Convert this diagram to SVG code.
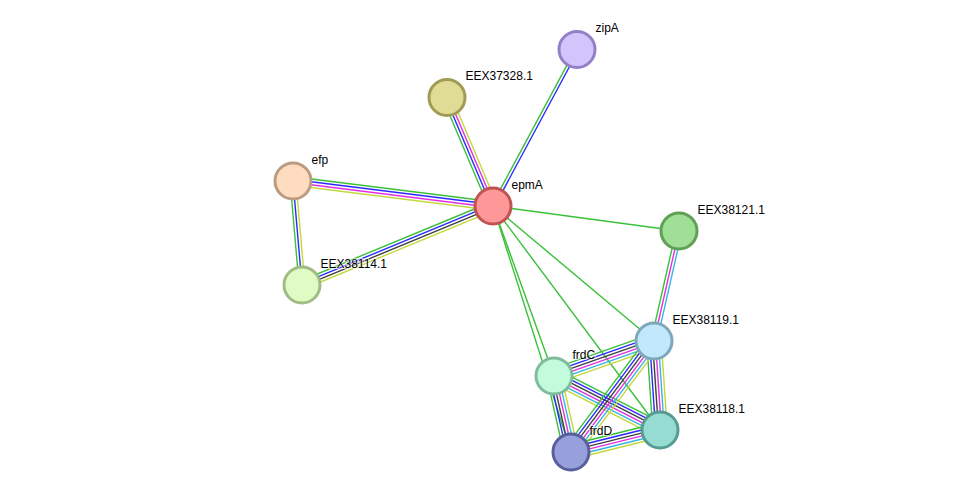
<svg xmlns="http://www.w3.org/2000/svg" xmlns:xlink="http://www.w3.org/1999/xlink" width="976" height="498" viewBox="0 0 976 498">
<style>
.l{stroke-width:1.4;fill:none}
.g{stroke:#38c038}.b{stroke:#2a2aff}.k{stroke:#404040}.m{stroke:#e030e0}.c{stroke:#38b4e0}.y{stroke:#c4d83a}
.n{stroke-width:3}
text{font-family:"Liberation Sans",Arial,sans-serif;font-size:12px;fill:#000;stroke:#fff;stroke-width:2;stroke-opacity:0.6;paint-order:stroke}
</style>
<defs>
<g id="b2"><line class="l g" x1="0" y1="-1.45" x2="1" y2="-1.45"/><line class="l b" x1="0" y1="1.45" x2="1" y2="1.45"/></g>
<g id="b3gby"><line class="l g" x1="0" y1="-2.9" x2="1" y2="-2.9"/><line class="l b" x1="0" y1="0" x2="1" y2="0"/><line class="l y" x1="0" y1="2.9" x2="1" y2="2.9"/></g>
<g id="b3gmc"><line class="l g" x1="0" y1="-2.9" x2="1" y2="-2.9"/><line class="l m" x1="0" y1="0" x2="1" y2="0"/><line class="l c" x1="0" y1="2.9" x2="1" y2="2.9"/></g>
<g id="b4gbmy"><line class="l g" x1="0" y1="-4.35" x2="1" y2="-4.35"/><line class="l b" x1="0" y1="-1.45" x2="1" y2="-1.45"/><line class="l m" x1="0" y1="1.45" x2="1" y2="1.45"/><line class="l y" x1="0" y1="4.35" x2="1" y2="4.35"/></g>
<g id="b4gbky"><line class="l g" x1="0" y1="-4.35" x2="1" y2="-4.35"/><line class="l b" x1="0" y1="-1.45" x2="1" y2="-1.45"/><line class="l k" x1="0" y1="1.45" x2="1" y2="1.45"/><line class="l y" x1="0" y1="4.35" x2="1" y2="4.35"/></g>
<g id="b6"><line class="l g" x1="0" y1="-7.25" x2="1" y2="-7.25"/><line class="l b" x1="0" y1="-4.35" x2="1" y2="-4.35"/><line class="l k" x1="0" y1="-1.45" x2="1" y2="-1.45"/><line class="l m" x1="0" y1="1.45" x2="1" y2="1.45"/><line class="l c" x1="0" y1="4.35" x2="1" y2="4.35"/><line class="l y" x1="0" y1="7.25" x2="1" y2="7.25"/></g>
</defs>
<rect width="976" height="498" fill="#fff"/>
<g id="edges">
<line class="l g" x1="493" y1="206" x2="679" y2="231"/>
<line class="l g" x1="493" y1="206" x2="654" y2="341"/>
<line class="l g" x1="493" y1="206" x2="660" y2="430"/>
<line class="l g" x1="493" y1="206" x2="554" y2="376"/>
<line class="l g" x1="493" y1="206" x2="571" y2="452"/>
<use xlink:href="#b2" transform="translate(493 206) rotate(-61.77) scale(177.6 1)"/>
<use xlink:href="#b4gbmy" transform="translate(493 206) rotate(-112.97) scale(117.85 1)"/>
<use xlink:href="#b4gbmy" transform="translate(293 181) rotate(7.125) scale(201.56 1)"/>
<use xlink:href="#b4gbky" transform="translate(302 285) rotate(-22.47) scale(206.69 1)"/>
<use xlink:href="#b3gby" transform="translate(302 285) rotate(-94.95) scale(104.39 1)"/>
<use xlink:href="#b3gmc" transform="translate(654 341) rotate(-77.2) scale(112.8 1)"/>
<use xlink:href="#b6" transform="translate(554 376) rotate(-19.29) scale(105.95 1)"/>
<use xlink:href="#b6" transform="translate(554 376) rotate(27) scale(118.96 1)"/>
<use xlink:href="#b6" transform="translate(571 452) rotate(-102.61) scale(77.88 1)"/>
<use xlink:href="#b6" transform="translate(660 430) rotate(-93.86) scale(89.2 1)"/>
<use xlink:href="#b6" transform="translate(571 452) rotate(-53.21) scale(138.6 1)"/>
<use xlink:href="#b6" transform="translate(571 452) rotate(-13.88) scale(91.68 1)"/>
</g>
<g id="epmA"><circle class="n" cx="493" cy="206" r="18" fill="#fe9898" stroke="#c05252"/><text x="511.5" y="188.5">epmA</text></g>
<g id="zipA"><circle class="n" cx="577" cy="49.5" r="18" fill="#d4c4fc" stroke="#9480c6"/><text x="595.5" y="32">zipA</text></g>
<g id="EEX37328.1"><circle class="n" cx="447" cy="97.5" r="18" fill="#e0dc96" stroke="#a09c56"/><text x="465.5" y="80">EEX37328.1</text></g>
<g id="efp"><circle class="n" cx="293" cy="181" r="18" fill="#fedcc0" stroke="#bc9c80"/><text x="311.5" y="163.5">efp</text></g>
<g id="EEX38114.1"><circle class="n" cx="302" cy="285" r="18" fill="#e0fcc4" stroke="#a0bc84"/><text x="320.5" y="267.5">EEX38114.1</text></g>
<g id="EEX38121.1"><circle class="n" cx="679" cy="231" r="18" fill="#a0e096" stroke="#60a056"/><text x="697.5" y="213.5">EEX38121.1</text></g>
<g id="EEX38119.1"><circle class="n" cx="654" cy="341" r="18" fill="#c2e8fc" stroke="#80a8bc"/><text x="672.5" y="323.5">EEX38119.1</text></g>
<g id="frdC"><circle class="n" cx="554" cy="376" r="18" fill="#c2fcdc" stroke="#80bc9c"/><text x="572.5" y="358.5">frdC</text></g>
<g id="EEX38118.1"><circle class="n" cx="660" cy="430" r="18" fill="#96dcd2" stroke="#569c92"/><text x="678.5" y="412.5">EEX38118.1</text></g>
<g id="frdD"><circle class="n" cx="571" cy="452" r="18" fill="#98a0dc" stroke="#58609c"/><text x="589.5" y="434.5">frdD</text></g>
</svg>
